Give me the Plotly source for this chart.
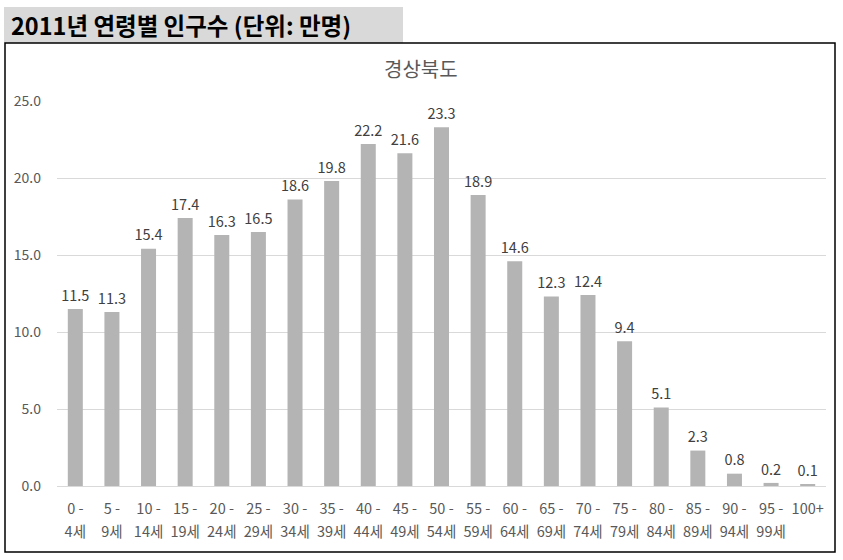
import plotly.graph_objects as go

categories_top = ["0 -", "5 -", "10 -", "15 -", "20 -", "25 -", "30 -", "35 -", "40 -", "45 -",
                  "50 -", "55 -", "60 -", "65 -", "70 -", "75 -", "80 -", "85 -", "90 -", "95 -", "100+"]
categories_bottom = ["4세", "9세", "14세", "19세", "24세", "29세", "34세", "39세", "44세", "49세",
                     "54세", "59세", "64세", "69세", "74세", "79세", "84세", "89세", "94세", "99세", ""]
population = [11.5, 11.3, 15.4, 17.4, 16.3, 16.5, 18.6, 19.8, 22.2, 21.6,
              23.3, 18.9, 14.6, 12.3, 12.4, 9.4, 5.1, 2.3, 0.8, 0.2, 0.1]
y_ticks = [0, 5, 10, 15, 20, 25]
y_ticktext = ["0.0", "5.0", "10.0", "15.0", "20.0", "25.0"]
chart_title = "경상북도"
header = "2011년 연령별 인구수 (단위: 만명)"

FONT = "Noto Sans CJK KR, Malgun Gothic, sans-serif"
W, H = 843, 560
L, R, T, B = 57, 17, 101, 74
pw, ph = W - L - R, H - T - B

def px(x):
    return (x - L) / pw

def py(y):
    return 1 - (y - T) / ph

idx = list(range(len(population)))

fig = go.Figure()
fig.add_trace(go.Bar(
    x=idx, y=population,
    marker=dict(color="#b4b4b4", line=dict(width=0)),
    hoverinfo="skip",
))
fig.add_trace(go.Scatter(
    x=idx, y=population,
    mode="markers+text",
    marker=dict(size=6, color="rgba(0,0,0,0)"),
    text=[f"{v:.1f}" for v in population],
    textposition="top center",
    textfont=dict(family=FONT, size=14.5, color="#404040"),
    cliponaxis=False,
    hoverinfo="skip",
))
fig.add_trace(go.Scatter(x=idx, y=[0] * len(idx), xaxis="x2", mode="none",
                         showlegend=False, hoverinfo="skip"))

fig.update_layout(
    width=W, height=H,
    margin=dict(l=L, r=R, t=T, b=B, pad=0),
    paper_bgcolor="white", plot_bgcolor="white",
    showlegend=False,
    bargap=0.59,
    font=dict(family=FONT, color="#595959"),
    xaxis=dict(
        range=[-0.5, len(idx) - 0.5],
        tickmode="array", tickvals=idx, ticktext=categories_top,
        tickfont=dict(family=FONT, size=14.5, color="#595959"),
        showgrid=False, zeroline=False, showline=False, ticks="",
        ticklabelstandoff=12,
    ),
    xaxis2=dict(
        overlaying="x", side="bottom", matches="x",
        range=[-0.5, len(idx) - 0.5],
        tickmode="array", tickvals=idx, ticktext=categories_bottom,
        tickfont=dict(family=FONT, size=14.5, color="#595959"),
        showgrid=False, zeroline=False, showline=False, ticks="",
        ticklabelstandoff=35,
    ),
    yaxis=dict(
        range=[0, 25],
        tickmode="array", tickvals=y_ticks, ticktext=y_ticktext,
        tickfont=dict(family=FONT, size=14, color="#595959"),
        showgrid=True, gridcolor="#d9d9d9", gridwidth=1,
        zeroline=True, zerolinecolor="#d9d9d9", zerolinewidth=1,
        showline=False, ticks="",
        ticklabelstandoff=15,
    ),
    shapes=[
        dict(type="rect", xref="paper", yref="paper",
             x0=px(4), x1=px(403), y0=py(43), y1=py(7),
             fillcolor="#d9d9d9", line=dict(width=0), layer="below"),
        dict(type="rect", xref="paper", yref="paper",
             x0=px(5), x1=px(835), y0=py(552), y1=py(43),
             fillcolor="rgba(0,0,0,0)", line=dict(color="black", width=1.5)),
    ],
    annotations=[
        dict(text=header, xref="paper", yref="paper", x=px(9), y=py(25),
             xanchor="left", yanchor="middle", showarrow=False,
             font=dict(family=FONT, size=23.5, color="black", weight="bold")),
        dict(text=chart_title, xref="paper", yref="paper", x=px(421), y=py(68),
             xanchor="center", yanchor="middle", showarrow=False,
             font=dict(family=FONT, size=20, color="#595959")),
    ],
)

fig.write_html("out.html", config={"displayModeBar": False},
               post_script="document.body.style.margin='0px';")
